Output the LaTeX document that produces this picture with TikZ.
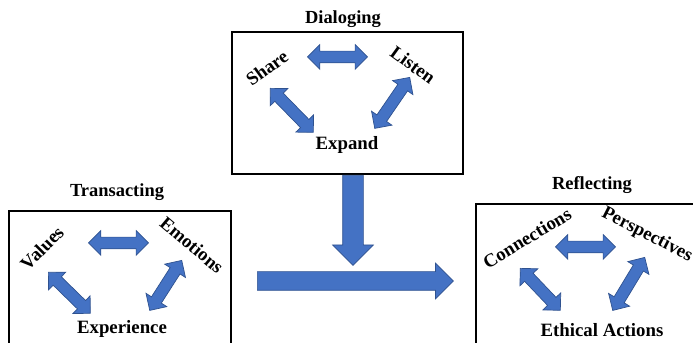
\documentclass[tikz,border=0pt]{standalone}
\usepackage{fontspec}
\setmainfont{Liberation Serif}
\usetikzlibrary{calc,shapes.arrows}
\definecolor{arrowblue}{HTML}{4472C4}
\definecolor{arrowedge}{HTML}{2F528F}
% block arrow between two points: \blockarrow[style](from)(to)
\def\blockarrow[#1](#2)(#3){\path let \p1=($(#3)-(#2)$), \n1={atan2(\y1,\x1)}, \n2={veclen(\x1,\y1)} in node[#1, minimum height=\n2, rotate=\n1] at (#2) {};}

\begin{document}
\begin{tikzpicture}[x=0.2mm, y=-0.2mm,
	panel/.style={draw, line width=1.1pt, inner sep=0pt},
	title/.style={font=\bfseries\fontsize{10.5}{12}\selectfont},
	lbl/.style={font=\bfseries\fontsize{10.7}{12}\selectfont, inner sep=0pt},
	twoway/.style={double arrow, anchor=tip 2, fill=arrowblue, draw=arrowedge, line width=0.4pt, inner xsep=0pt, inner ysep=1.1mm, double arrow head extend=1.3mm},
	oneway/.style={single arrow, anchor=tail, fill=arrowblue, draw=arrowedge, line width=0.4pt, inner xsep=0pt}]
		%%%%% START %%%%%
		\useasboundingbox (0,0) rectangle (693,343);
		\clip (0,0) rectangle (693,343);
		
		% Dialoging
		\node[panel, minimum width=46.2mm, minimum height=28.4mm] (dlg) at (347.5,103) {};
		\node[title] (dlgtitle) at (343,19) {Dialoging};
		\node[lbl, rotate=36] (share) at (267,68) {Share};
		\node[lbl, rotate=-36] (listen) at (413,65) {Listen};
		\node[lbl] (expand) at (347,145) {Expand};
		\blockarrow[twoway](307,57)(367,57);
		\blockarrow[twoway](270,88)(313,132);
		\blockarrow[twoway](410,77)(375,128);
		
		% Transacting
		\node[panel, minimum width=44.4mm, minimum height=27.8mm] (trn) at (120,280.5) {};
		\node[title] (trntitle) at (117,192) {Transacting};
		\node[lbl, rotate=45] (values) at (42,248) {Values};
		\node[lbl, rotate=-40] (emotions) at (192,245) {Emotions};
		\node[lbl] (experience) at (122,329) {Experience};
		\blockarrow[twoway](88,243)(148,243);
		\blockarrow[twoway](48,272)(90,313);
		\blockarrow[twoway](182,260)(150,310);
		
		% Reflecting
		\node[panel, minimum width=45.8mm, minimum height=29.2mm] (rfl) at (590.5,277) {};
		\node[title] (rfltitle) at (592,185) {Reflecting};
		\node[lbl, rotate=31] (connections) at (527,238) {Connections};
		\node[lbl, rotate=-27] (perspectives) at (647,235) {Perspectives};
		\node[lbl] (ethical) at (602,330) {Ethical Actions};
		\blockarrow[twoway](555,247)(615,247);
		\blockarrow[twoway](520,268)(560,310);
		\blockarrow[twoway](645,257)(613,310);
		
		% flow between panels
		\coordinate (downtail) at ($(dlg.south)+(5.5,0)$);
		\coordinate (downtip) at (353,265);
		\coordinate (flowtail) at (257,281);
		\coordinate (flowtip) at (453,281);
		\blockarrow[oneway, inner ysep=2mm, single arrow head extend=2mm](downtail)(downtip);
		\blockarrow[oneway, inner ysep=1.8mm, single arrow head extend=1.7mm](flowtail)(flowtip);
		
		%%%%% END %%%%%
	\end{tikzpicture}
\end{document}
